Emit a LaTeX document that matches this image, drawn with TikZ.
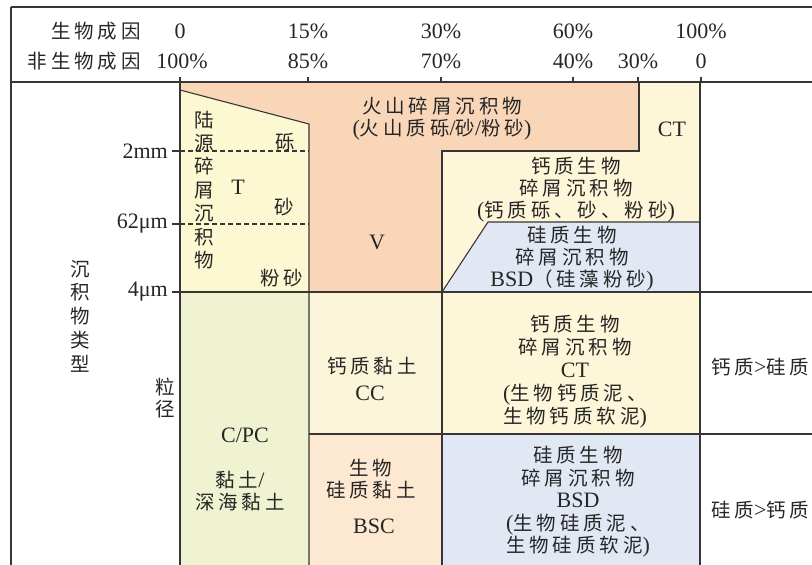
\documentclass[tikz,border=0pt]{standalone}
\usepackage{fontspec}
\setmainfont{Liberation Serif}
\newfontfamily\cjk[LetterSpace=20]{Noto Sans CJK SC}
\newcommand\C[1]{{\fontsize{19.5}{22}\cjk #1}}
\definecolor{lc}{HTML}{363636}
\definecolor{orng}{HTML}{F9D6B7}
\definecolor{tyel}{HTML}{FCF8D2}
\definecolor{ctyel}{HTML}{FEF6D8}
\definecolor{bsdblue}{HTML}{E1E8F4}
\definecolor{cpcgreen}{HTML}{F0F3D2}
\definecolor{ccyel}{HTML}{FAF5D8}
\definecolor{bscpeach}{HTML}{FDE8D1}
\tikzset{
  ln/.style={draw=lc, line width=1.1pt},
  lab/.style={inner sep=0pt, font=\fontsize{22}{22}\selectfont, align=center, text=black!85},
  vlab/.style={lab, font=\fontsize{22}{23.4}\selectfont},
}
\begin{document}
\begin{tikzpicture}[x=1pt, y=-1pt]
\useasboundingbox (0,0) rectangle (812,565);
% fills
\fill[orng] (180,82) -- (639,82) -- (639,151) -- (442,151) -- (442,292) -- (309,292) -- (309,124) -- (180,90) -- cycle;
\fill[tyel] (180,90) -- (309,124) -- (309,292) -- (180,292) -- cycle;
\fill[ctyel] (639,82) -- (700,82) -- (700,292) -- (442,292) -- (442,151) -- (639,151) -- cycle;
\fill[bsdblue] (442,292) -- (488,222) -- (700,222) -- (700,292) -- cycle;
\fill[cpcgreen] (180,292) rectangle (309,565);
\fill[ccyel] (309,292) rectangle (442,434);
\fill[bscpeach] (309,434) rectangle (442,565);
\fill[ctyel] (442,292) rectangle (700,434);
\fill[bsdblue] (442,434) rectangle (700,565);
% frame and grid
\draw[ln] (11,7) -- (812,7);
\draw[ln] (11,7) -- (11,565);
\draw[ln] (11,82) -- (812,82);
\foreach \x in {180,308,441,573,638,701} \draw[ln] (\x,77) -- (\x,82);
\draw[ln] (180,82) -- (180,565);
\draw[ln] (180,90) -- (309,124) -- (309,565);
\draw[ln] (639,82) -- (639,151) -- (442,151) -- (442,565);
\draw[ln] (442,292) -- (488,222) -- (700,222);
\draw[ln] (700,82) -- (700,565);
\draw[ln] (172,292) -- (812,292);
\draw[ln] (309,434) -- (812,434);
\draw[ln, dash pattern=on 5pt off 3pt] (180,151) -- (309,151);
\draw[ln, dash pattern=on 5pt off 3pt] (180,224) -- (309,224);
\draw[ln] (172,151) -- (180,151);
\draw[ln] (172,224) -- (180,224);
% header
\node[lab, anchor=east] (hb) at (141,31) {\C{生物成因}};
\node[lab, anchor=east] (ha) at (141,61) {\C{非生物成因}};
\node[lab] (b0) at (180,31) {0};
\node[lab] (b15) at (308,31) {15\%};
\node[lab] (b30) at (441,31) {30\%};
\node[lab] (b60) at (573,31) {60\%};
\node[lab] (b100) at (701,31) {100\%};
\node[lab] (a100) at (182,61) {100\%};
\node[lab] (a85) at (308,61) {85\%};
\node[lab] (a70) at (441,61) {70\%};
\node[lab] (a40) at (573,61) {40\%};
\node[lab] (a30) at (638,61) {30\%};
\node[lab] (a0) at (701,61) {0};
% left axis
\node[lab, font=\fontsize{22}{23.75}\selectfont] (typ) at (80,316) {\C{沉}\\\C{积}\\\C{物}\\\C{类}\\\C{型}};
\node[lab] (lj) at (165,398) {\C{粒}\\\C{径}};
\node[lab, anchor=east] (s2) at (168,151) {2mm};
\node[lab, anchor=east] (s62) at (168,224) {62μm};
\node[lab, anchor=east] (s4) at (168,292) {4μm};
% upper region texts
\node[vlab] (lu) at (204,190) {\C{陆}\\\C{源}\\\C{碎}\\\C{屑}\\\C{沉}\\\C{积}\\\C{物}};
\node[lab] (li) at (285,142) {\C{砾}};
\node[lab] (tt) at (238,187) {T};
\node[lab] (sa) at (284,207) {\C{砂}};
\node[lab] (fs) at (282,278) {\C{粉砂}};
\node[lab] (vv) at (377,242) {V};
\node[lab] (vol) at (442,119) {\C{火山碎屑沉积物}\\(\C{火山质砾}/\C{砂}/\C{粉砂})};
\node[lab] (ct1) at (672,129) {CT};
\node[lab] (ctu) at (576,190) {\C{钙质生物}\\\C{碎屑沉积物}\\(\C{钙质砾、砂、粉砂})};
\node[lab] (bsdu) at (572,259) {\C{硅质生物}\\\C{碎屑沉积物}\\BSD\C{（硅藻粉砂}) };
% lower region texts
\node[lab] (cpc) at (245,435) {C/PC};
\node[lab] (clay) at (240,491) {\C{黏土}/\\\C{深海黏土}};
\node[lab] (cc1) at (372,366) {\C{钙质黏土}};
\node[lab] (cc2) at (370,393) {CC};
\node[lab] (bsc1) at (371,479) {\C{生物}\\\C{硅质黏土}};
\node[lab] (bsc2) at (374,526) {BSC};
\node[lab, font=\fontsize{22}{23}\selectfont] (ctl) at (575,372) {\C{钙质生物}\\\C{碎屑沉积物}\\CT\\(\C{生物钙质泥、}\\\C{生物钙质软泥})};
\node[lab, font=\fontsize{22}{22.5}\selectfont] (bsdl) at (578,502) {\C{硅质生物}\\\C{碎屑沉积物}\\BSD\\(\C{生物硅质泥、}\\\C{生物硅质软泥})};
\node[lab, anchor=west] (r1) at (711,367) {\C{钙质}>\C{硅质}};
\node[lab, anchor=west] (r2) at (711,510) {\C{硅质}>\C{钙质}};
\end{tikzpicture}
\end{document}
